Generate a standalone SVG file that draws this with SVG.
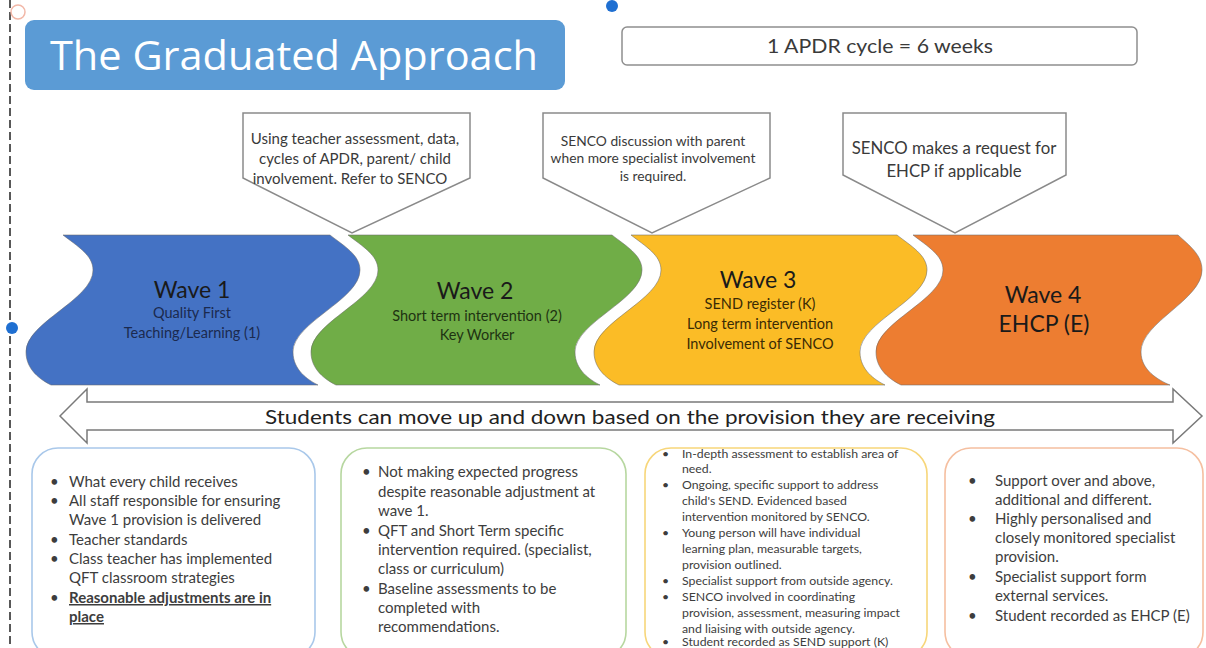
<svg xmlns="http://www.w3.org/2000/svg" width="1206" height="648" viewBox="0 0 1206 648">
  <defs>
    <style>
      .ui { font-family: Lato, "Open Sans", "Liberation Sans", sans-serif; }
      .title { font-family: "Open Sans", "Liberation Sans", sans-serif; font-size: 40px; fill: #ffffff; }
      .callout { fill: #ffffff; stroke: #8a8a8a; stroke-width: 1.5; }
      .ctext { font-family: Lato, "Liberation Sans", sans-serif; fill: #3a3a3a; text-anchor: middle; }
      .wave { stroke: #6b6b6b; stroke-width: 1; stroke-opacity: 0.55; }
      .whead { font-family: Lato, "Liberation Sans", sans-serif; font-size: 23px; fill: #1a1a1a; text-anchor: middle; }
      .wsub { font-family: Lato, "Liberation Sans", sans-serif; font-size: 14.5px; text-anchor: middle; }
      .box { fill: #ffffff; stroke-width: 1.6; }
      .btext { font-family: Lato, "Liberation Sans", sans-serif; font-size: 15px; fill: #3d3d3d; }
      .small { font-family: Lato, "Liberation Sans", sans-serif; font-size: 12.3px; fill: #3d3d3d; }
      .handle { fill: #1f6fd1; }
    </style>
  </defs>

  <rect width="1206" height="648" fill="#ffffff"/>

  <!-- frame edge and selection handles -->
  <line x1="10" y1="0" x2="10" y2="648" stroke="#222" stroke-width="1.5" stroke-dasharray="8 4"/>
  <circle cx="18" cy="12" r="7" fill="none" stroke="#f2b8a8" stroke-width="1.5"/>
  <circle class="handle" cx="612" cy="6" r="6"/>
  <circle class="handle" cx="12" cy="328" r="6"/>
  <circle class="handle" cx="612" cy="650" r="6"/>

  <!-- title -->
  <g id="title">
    <rect x="25" y="20" width="540" height="70" rx="9" fill="#5b9bd5"/>
    <text class="title" x="50" y="70" textLength="488" lengthAdjust="spacingAndGlyphs">The Graduated Approach</text>
  </g>

  <g id="cycle">
    <rect x="622" y="27" width="515" height="38" rx="5" fill="#ffffff" stroke="#8f8f8f" stroke-width="1.5"/>
    <text class="ctext" x="880" y="53" font-size="20" fill="#222" textLength="226" lengthAdjust="spacingAndGlyphs">1 APDR cycle = 6 weeks</text>
  </g>

  <!-- callouts -->
  <g id="callout1">
    <polygon class="callout" points="243,113 470,113 470,178 352,233 243,178"/>
    <text class="ctext" font-size="15" x="355" y="144">Using teacher assessment, data,</text>
    <text class="ctext" font-size="15" x="355" y="164">cycles of APDR, parent/ child</text>
    <text class="ctext" font-size="15" x="350" y="184">involvement. Refer to SENCO</text>
  </g>
  <g id="callout2">
    <polygon class="callout" points="543,113 770,113 770,178 652,233 543,178"/>
    <text class="ctext" font-size="13.8" x="653" y="146">SENCO discussion with parent</text>
    <text class="ctext" font-size="13.8" x="653" y="163">when more specialist involvement</text>
    <text class="ctext" font-size="13.8" x="653" y="181">is required.</text>
  </g>
  <g id="callout3">
    <polygon class="callout" points="843,113 1066,113 1066,175 955,233 843,175"/>
    <text class="ctext" font-size="16.8" x="954" y="154">SENCO makes a request for</text>
    <text class="ctext" font-size="16.8" x="954" y="177">EHCP if applicable</text>
  </g>

  <!-- wave shapes -->
  <g id="wave1">
    <path class="wave" fill="#4472c4" d="M63,235 L330,235 C344,246 360,255 360,270 C360,300 293,322 293,352 C293,370 308,380 318,385 L51,385 C41,380 26,370 26,352 C26,322 93,300 93,270 C93,255 77,246 63,235 Z"/>
    <text class="whead" x="192" y="298">Wave 1</text>
    <text class="wsub" x="192" y="318" fill="#1b2a4f">Quality First</text>
    <text class="wsub" x="192" y="338" fill="#1b2a4f">Teaching/Learning (1)</text>
  </g>
  <g id="wave2">
    <path class="wave" fill="#70ad47" d="M348,235 L612,235 C626,246 642,255 642,270 C642,300 575,322 575,352 C575,370 590,380 600,385 L336,385 C326,380 311,370 311,352 C311,322 378,300 378,270 C378,255 362,246 348,235 Z"/>
    <text class="whead" x="475" y="299" font-size="24">Wave 2</text>
    <text class="wsub" x="477" y="321" fill="#1e3312">Short term intervention (2)</text>
    <text class="wsub" x="477" y="340" fill="#1e3312">Key Worker</text>
  </g>
  <g id="wave3">
    <path class="wave" fill="#fbbc26" d="M631,235 L897,235 C911,246 927,255 927,270 C927,300 860,322 860,352 C860,370 875,380 885,385 L619,385 C609,380 594,370 594,352 C594,322 661,300 661,270 C661,255 645,246 631,235 Z"/>
    <text class="whead" x="758" y="288" font-size="24">Wave 3</text>
    <text class="wsub" x="760" y="309" fill="#3a2b05">SEND register (K)</text>
    <text class="wsub" x="760" y="329" fill="#3a2b05">Long term intervention</text>
    <text class="wsub" x="760" y="349" fill="#3a2b05">Involvement of SENCO</text>
  </g>
  <g id="wave4">
    <path class="wave" fill="#ed7d31" d="M913,235 L1178,235 C1190,246 1202,255 1202,270 C1202,300 1141,322 1141,352 C1141,370 1158,380 1170,385 L901,385 C891,380 876,370 876,352 C876,322 943,300 943,270 C943,255 927,246 913,235 Z"/>
    <text class="whead" x="1043" y="303" font-size="25">Wave 4</text>
    <text class="whead" x="1044" y="332" font-size="19">EHCP (E)</text>
  </g>

  <!-- two-way movement arrow -->
  <g id="movement">
    <polygon points="60,416 87,389 87,402 1173,402 1173,389 1202,416 1173,443 1173,430 87,430 87,443" fill="#ffffff" stroke="#7a7a7a" stroke-width="1.5" stroke-linejoin="miter"/>
    <text class="ui" x="630" y="424" font-size="20" fill="#222" text-anchor="middle" textLength="730" lengthAdjust="spacingAndGlyphs">Students can move up and down based on the provision they are receiving</text>
  </g>

  <!-- detail boxes -->
  <g id="detail1">
    <rect class="box" x="32" y="448" width="283" height="210" rx="26" stroke="#a9c8ea"/>
    <g class="btext">
      <text x="50" y="487">•</text><text x="69" y="487">What every child receives</text>
      <text x="50" y="506">•</text><text x="69" y="506">All staff responsible for ensuring</text>
      <text x="69" y="525">Wave 1 provision is delivered</text>
      <text x="50" y="545">•</text><text x="69" y="545">Teacher standards</text>
      <text x="50" y="564">•</text><text x="69" y="564">Class teacher has implemented</text>
      <text x="69" y="583">QFT classroom  strategies</text>
      <text x="50" y="603">•</text><text x="69" y="603" font-weight="bold" text-decoration="underline">Reasonable adjustments are in</text>
      <text x="69" y="622" font-weight="bold" text-decoration="underline">place</text>
    </g>
  </g>
  <g id="detail2">
    <rect class="box" x="341" y="448" width="285" height="210" rx="26" stroke="#b7d7a0"/>
    <g class="btext">
      <text x="362" y="477">•</text><text x="378" y="477">Not making expected progress</text>
      <text x="378" y="497">despite reasonable adjustment at</text>
      <text x="378" y="516">wave 1.</text>
      <text x="362" y="536">•</text><text x="378" y="536">QFT and Short Term specific</text>
      <text x="378" y="555">intervention required. (specialist,</text>
      <text x="378" y="574">class or curriculum)</text>
      <text x="362" y="594">•</text><text x="378" y="594">Baseline assessments to be</text>
      <text x="378" y="613">completed with</text>
      <text x="378" y="632">recommendations.</text>
    </g>
  </g>
  <g id="detail3">
    <rect class="box" x="645" y="448" width="282" height="210" rx="26" stroke="#f7d67a"/>
    <g class="small">
      <text x="662" y="458">•</text><text x="682" y="458">In-depth assessment to establish area of</text>
      <text x="682" y="473">need.</text>
      <text x="662" y="489">•</text><text x="682" y="489">Ongoing, specific support to address</text>
      <text x="682" y="505">child's SEND.  Evidenced based</text>
      <text x="682" y="521">intervention monitored by SENCO.</text>
      <text x="662" y="537">•</text><text x="682" y="537">Young person will have individual</text>
      <text x="682" y="553">learning  plan, measurable targets,</text>
      <text x="682" y="569">provision outlined.</text>
      <text x="662" y="585">•</text><text x="682" y="585">Specialist support from outside agency.</text>
      <text x="662" y="601">•</text><text x="682" y="601">SENCO involved in coordinating</text>
      <text x="682" y="617">provision, assessment, measuring impact</text>
      <text x="682" y="633">and liaising with outside agency.</text>
      <text x="662" y="646">•</text><text x="682" y="646">Student recorded as SEND support (K)</text>
    </g>
  </g>
  <g id="detail4">
    <rect class="box" x="945" y="448" width="258" height="210" rx="26" stroke="#f5bfa0"/>
    <g class="btext">
      <text x="968" y="486">•</text><text x="995" y="486">Support over and above,</text>
      <text x="995" y="505">additional and different.</text>
      <text x="968" y="524">•</text><text x="995" y="524">Highly personalised and</text>
      <text x="995" y="543">closely monitored specialist</text>
      <text x="995" y="562">provision.</text>
      <text x="968" y="582">•</text><text x="995" y="582">Specialist support form</text>
      <text x="995" y="601">external services.</text>
      <text x="968" y="621">•</text><text x="995" y="621">Student recorded as EHCP (E)</text>
    </g>
  </g>
</svg>
